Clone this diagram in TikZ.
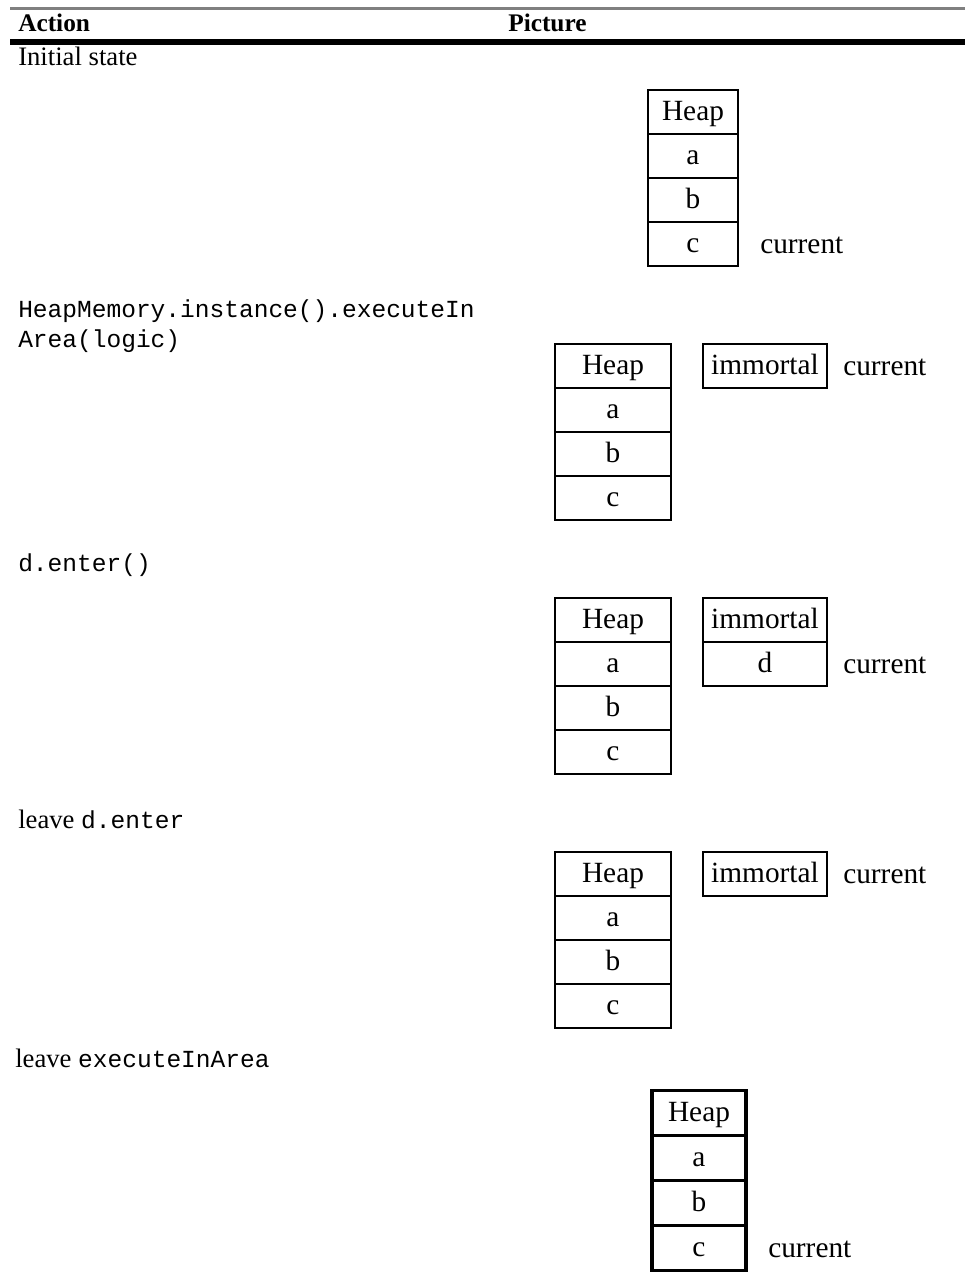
\documentclass[tikz,border=0pt]{standalone}
\usepackage{fontspec}
\setmainfont{Liberation Serif}
\setmonofont{Liberation Mono}
\usetikzlibrary{positioning}

\tikzset{
  heapcell/.style={draw, line width=1.8pt, outer sep=0pt, inner sep=0pt,
    minimum height=33pt, text height=16.5pt, text depth=3.5pt,
    font=\fontsize{22}{26}\selectfont},
  note/.style={anchor=west, inner sep=0pt, font=\fontsize{22}{26}\selectfont},
  action/.style={anchor=west, inner sep=0pt, font=\fontsize{20}{24}\selectfont},
  code/.style={anchor=west, inner sep=0pt, font=\fontsize{18.4}{22}\selectfont\ttfamily},
}

\begin{document}
\begin{tikzpicture}[x=0.75pt, y=-0.75pt]
    \useasboundingbox (0,0) rectangle (965,1279);

    % table head
    \draw[line width=2pt, gray] (10,8.5) -- (965,8.5);
    \node[anchor=west, inner sep=0pt, font=\fontsize{19}{22}\selectfont\bfseries] (hdact) at (18,23) {Action};
    \node[anchor=west, inner sep=0pt, font=\fontsize{19}{22}\selectfont\bfseries] (hdpic) at (508,23) {Picture};
    \draw[line width=4.5pt] (10,41.5) -- (965,41.5);

    % initial state
    \node[action] (act1) at (18,56) {Initial state};
    \foreach \t [count=\i] in {Heap,a,b,c} {
        \node[heapcell, minimum width=67.5pt] (sa-\i) at (693, 68+44*\i) {\t};
    }
    \node[note] (cura) at (760,245) {current};

    % executeInArea
    \node[code] (act2) at (18,311) {HeapMemory.instance().executeIn};
    \node[code] (act2b) at (18,341) {Area(logic)};
    \foreach \t [count=\i] in {Heap,a,b,c} {
        \node[heapcell, minimum width=87pt] (sb-\i) at (613, 322+44*\i) {\t};
    }
    \node[heapcell, minimum width=93pt] (imb) at (765,366) {immortal};
    \node[note] (curb) at (843,367) {current};

    % d.enter()
    \node[code] (act3) at (18,565) {d.enter()};
    \foreach \t [count=\i] in {Heap,a,b,c} {
        \node[heapcell, minimum width=87pt] (sc-\i) at (613, 576+44*\i) {\t};
    }
    \node[heapcell, minimum width=93pt] (imc) at (765,620) {immortal};
    \node[heapcell, minimum width=93pt, below=0pt of imc] (dc) {d};
    \node[note] (curc) at (843,665) {current};

    % leave d.enter
    \node[action] (act4) at (18,819) {leave \texttt{\fontsize{18.4}{22}\selectfont d.enter}};
    \foreach \t [count=\i] in {Heap,a,b,c} {
        \node[heapcell, minimum width=87pt] (sd-\i) at (613, 830+44*\i) {\t};
    }
    \node[heapcell, minimum width=93pt] (imd) at (765,874) {immortal};
    \node[note] (curd) at (843,875) {current};

    % leave executeInArea
    \node[action] (act5) at (15,1058) {leave \texttt{\fontsize{18.4}{22}\selectfont executeInArea}};
    \foreach \t [count=\i] in {Heap,a,b,c} {
        \node[heapcell, line width=2.6pt, minimum width=70.5pt, minimum height=33.75pt] (se-\i) at (699, 1068+45*\i) {\t};
    }
    \node[note] (cure) at (768,1249) {current};
\end{tikzpicture}
\end{document}
